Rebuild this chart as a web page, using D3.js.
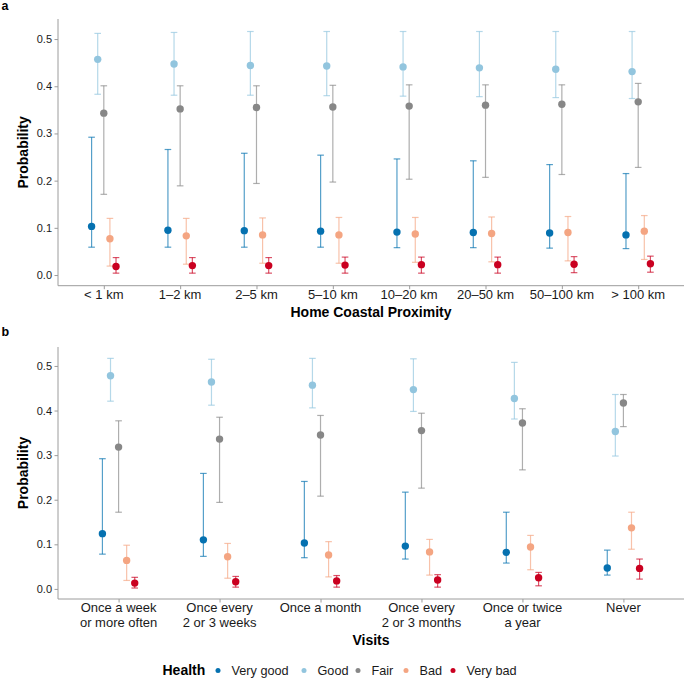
<!DOCTYPE html>
<html>
<head>
<meta charset="utf-8">
<script src="https://cdn.jsdelivr.net/npm/d3@7"></script>
<style>
  body { margin: 0; background: #fff; }
  text { font-family: "Liberation Sans", Arial, Helvetica, sans-serif; }
</style>
</head>
<body>
<script>
var w = 685,
    h = 678;

var healthLevels = ["Very good", "Good", "Fair", "Bad", "Very bad"];
var healthColors = ["#0571b0", "#92c5de", "#878787", "#f4a582", "#ca0020"];

var proxCats = ["< 1 km", "1\u20132 km", "2\u20135 km", "5\u201310 km", "10\u201320 km", "20\u201350 km", "50\u2013100 km", "> 100 km"];
var visitCats = [["Once a week", "or more often"], ["Once every", "2 or 3 weeks"], ["Once a month"],
                 ["Once every", "2 or 3 months"], ["Once or twice", "a year"], ["Never"]];

var yTicks = [0, 0.1, 0.2, 0.3, 0.4, 0.5];

// panel a: one row per health level, one column per distance band
var proxEst = [
  [0.103, 0.095, 0.094, 0.093, 0.091, 0.090, 0.089, 0.085],
  [0.457, 0.447, 0.444, 0.443, 0.441, 0.439, 0.436, 0.431],
  [0.343, 0.352, 0.355, 0.356, 0.358, 0.360, 0.362, 0.367],
  [0.077, 0.083, 0.085, 0.085, 0.087, 0.088, 0.090, 0.093],
  [0.018, 0.020, 0.020, 0.021, 0.022, 0.022, 0.023, 0.024]
];
var proxLo = [
  [0.059, 0.059, 0.059, 0.059, 0.058, 0.058, 0.057, 0.056],
  [0.383, 0.381, 0.381, 0.380, 0.379, 0.378, 0.376, 0.374],
  [0.171, 0.189, 0.194, 0.197, 0.203, 0.207, 0.213, 0.228],
  [0.019, 0.023, 0.025, 0.025, 0.027, 0.028, 0.030, 0.033],
  [0.004, 0.004, 0.004, 0.004, 0.004, 0.004, 0.005, 0.006]
];
var proxHi = [
  [0.292, 0.266, 0.258, 0.254, 0.246, 0.242, 0.234, 0.215],
  [0.512, 0.514, 0.516, 0.516, 0.516, 0.516, 0.516, 0.516],
  [0.401, 0.401, 0.401, 0.402, 0.403, 0.403, 0.403, 0.406],
  [0.120, 0.120, 0.121, 0.122, 0.122, 0.123, 0.124, 0.126],
  [0.037, 0.037, 0.037, 0.038, 0.038, 0.038, 0.039, 0.040]
];

// panel b: one row per health level, one column per visit frequency
var visitEst = [
  [0.124, 0.110, 0.103, 0.096, 0.082, 0.047],
  [0.478, 0.464, 0.457, 0.447, 0.427, 0.353],
  [0.318, 0.336, 0.345, 0.355, 0.372, 0.417],
  [0.064, 0.072, 0.076, 0.083, 0.094, 0.137],
  [0.013, 0.016, 0.018, 0.020, 0.025, 0.046]
];
var visitLo = [
  [0.078, 0.073, 0.070, 0.067, 0.058, 0.031],
  [0.421, 0.412, 0.406, 0.398, 0.381, 0.298],
  [0.172, 0.194, 0.208, 0.226, 0.267, 0.364],
  [0.019, 0.024, 0.027, 0.031, 0.043, 0.089],
  [0.002, 0.004, 0.004, 0.004, 0.007, 0.022]
];
var visitHi = [
  [0.292, 0.259, 0.241, 0.217, 0.172, 0.087],
  [0.517, 0.515, 0.517, 0.516, 0.508, 0.436],
  [0.377, 0.385, 0.389, 0.394, 0.404, 0.436],
  [0.098, 0.102, 0.106, 0.111, 0.120, 0.172],
  [0.026, 0.028, 0.030, 0.032, 0.037, 0.067]
];

var svg = d3.select("body").append("svg")
    .attr("width", w)
    .attr("height", h);

function drawPanel(opt) {
  var g = svg.append("g");
  var nCat = opt.cats.length;

  // ggplot-like discrete scale: 0.6 expansion each side
  var x = d3.scaleLinear()
      .domain([0.4, nCat + 0.6])
      .range([opt.left, opt.right]);
  var y = d3.scaleLinear()
      .domain([-0.0226, 0.5425])
      .range([opt.bottom, opt.top]);

  var dodge = 0.08;

  var pts = [];
  healthLevels.forEach(function(lvl, s) {
    opt.cats.forEach(function(c, i) {
      pts.push({
        s: s,
        xv: i + 1 + (s - 2) * dodge,
        est: opt.est[s][i],
        lo: opt.lo[s][i],
        hi: opt.hi[s][i]
      });
    });
  });

  // axes
  var yAxis = d3.axisLeft(y).tickValues(yTicks).tickFormat(d3.format(".1f")).tickSize(3.5).tickPadding(2.5);
  var ya = g.append("g")
      .attr("transform", "translate(" + opt.left + ",0)")
      .call(yAxis);
  ya.select(".domain").remove();
  ya.append("line")
      .attr("x1", 0).attr("x2", 0)
      .attr("y1", opt.top).attr("y2", opt.bottom);

  var xAxis = d3.axisBottom(x).tickValues(d3.range(1, nCat + 1)).tickFormat("").tickSize(3.5);
  var xa = g.append("g")
      .attr("transform", "translate(0," + opt.bottom + ")")
      .call(xAxis);
  xa.select(".domain").remove();
  xa.append("line")
      .attr("x1", opt.left).attr("x2", opt.right)
      .attr("y1", 0).attr("y2", 0);

  [ya, xa].forEach(function(a) {
    a.selectAll("line").attr("stroke", "#9c9c9c").attr("stroke-width", 1);
    a.selectAll(".tick text").attr("fill", "#1a1a1a").attr("font-size", 11);
  });

  // x tick labels, possibly two lines
  opt.cats.forEach(function(c, i) {
    var lines = Array.isArray(c) ? c : [c];
    var t = g.append("text")
        .attr("x", x(i + 1))
        .attr("y", opt.bottom + 13.3)
        .attr("text-anchor", "middle")
        .attr("font-size", 13)
        .attr("fill", "#1a1a1a");
    lines.forEach(function(l, k) {
      t.append("tspan")
          .attr("x", x(i + 1))
          .attr("dy", k == 0 ? 0 : 14.4)
          .text(l);
    });
  });

  // axis titles
  g.append("text")
      .attr("transform", "translate(" + 27.5 + "," + ((opt.top + opt.bottom) / 2) + ") rotate(-90)")
      .attr("text-anchor", "middle")
      .attr("font-size", 14)
      .attr("font-weight", "bold")
      .text("Probability");
  g.append("text")
      .attr("x", (opt.left + opt.right) / 2)
      .attr("y", opt.titleY)
      .attr("text-anchor", "middle")
      .attr("font-size", 14)
      .attr("font-weight", "bold")
      .text(opt.xTitle);

  g.append("text")
      .attr("x", 1.5)
      .attr("y", opt.tagY)
      .attr("font-size", 12.5)
      .attr("font-weight", "bold")
      .text(opt.tag);

  // error bars
  var cap = 3.3;
  var eb = g.selectAll(".eb")
      .data(pts)
    .enter().append("g")
      .attr("class", "eb")
      .attr("stroke", function(d) { return healthColors[d.s]; })
      .attr("stroke-opacity", 0.68)
      .attr("stroke-width", 1.2)
      .attr("fill", "none");
  eb.append("line")
      .attr("x1", function(d) { return x(d.xv); })
      .attr("x2", function(d) { return x(d.xv); })
      .attr("y1", function(d) { return y(d.lo); })
      .attr("y2", function(d) { return y(d.hi); });
  eb.append("line")
      .attr("x1", function(d) { return x(d.xv) - cap; })
      .attr("x2", function(d) { return x(d.xv) + cap; })
      .attr("y1", function(d) { return y(d.lo); })
      .attr("y2", function(d) { return y(d.lo); });
  eb.append("line")
      .attr("x1", function(d) { return x(d.xv) - cap; })
      .attr("x2", function(d) { return x(d.xv) + cap; })
      .attr("y1", function(d) { return y(d.hi); })
      .attr("y2", function(d) { return y(d.hi); });

  g.selectAll(".pt")
      .data(pts)
    .enter().append("circle")
      .attr("class", "pt")
      .attr("cx", function(d) { return x(d.xv); })
      .attr("cy", function(d) { return y(d.est); })
      .attr("r", 3.7)
      .attr("fill", function(d) { return healthColors[d.s]; });
}

drawPanel({
  cats: proxCats, est: proxEst, lo: proxLo, hi: proxHi,
  left: 58, right: 684, top: 19, bottom: 285.7,
  xTitle: "Home Coastal Proximity", titleY: 316.5,
  tag: "a", tagY: 10
});

drawPanel({
  cats: visitCats, est: visitEst, lo: visitLo, hi: visitHi,
  left: 58, right: 684, top: 347, bottom: 599,
  xTitle: "Visits", titleY: 645,
  tag: "b", tagY: 336
});

// legend
var leg = svg.append("g");
leg.append("text")
    .attr("x", 162.5)
    .attr("y", 675)
    .attr("font-size", 14)
    .attr("font-weight", "bold")
    .text("Health");
var legX = [218, 304, 358, 406, 453];
healthLevels.forEach(function(lvl, s) {
  leg.append("circle")
      .attr("cx", legX[s])
      .attr("cy", 670.5)
      .attr("r", 2.5)
      .attr("fill", healthColors[s]);
  leg.append("text")
      .attr("x", legX[s] + 13.5)
      .attr("y", 675)
      .attr("font-size", 12.7)
      .attr("fill", "#1a1a1a")
      .text(lvl);
});
</script>
</body>
</html>
